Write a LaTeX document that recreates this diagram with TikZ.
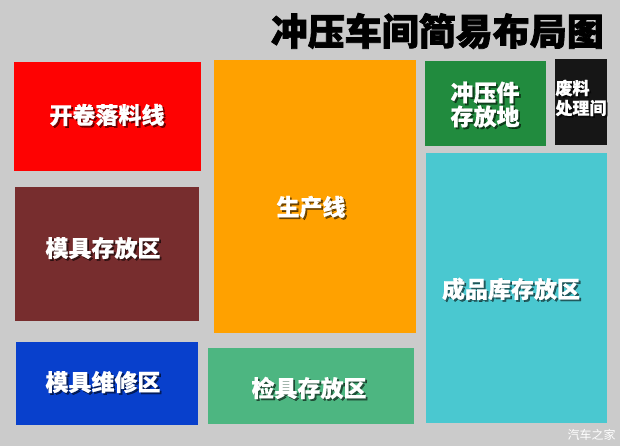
\documentclass[tikz,border=0pt]{standalone}
\usepackage{fontspec}
\newfontfamily\cjk{Noto Sans CJK SC}[BoldFeatures={FakeBold=0.6}]
\newfontfamily\cjktitle{Noto Sans CJK SC}[BoldFeatures={FakeBold=2}]
\definecolor{cBg}{RGB}{203,203,203}
\definecolor{cRed}{RGB}{254,2,2}
\definecolor{cOrange}{RGB}{255,161,0}
\definecolor{cGreen}{RGB}{33,139,62}
\definecolor{cBlack}{RGB}{22,22,22}
\definecolor{cCyan}{RGB}{74,200,208}
\definecolor{cBrown}{RGB}{119,45,46}
\definecolor{cBlue}{RGB}{8,64,204}
\definecolor{cSea}{RGB}{77,182,129}
\tikzset{
  zone/.style={inner sep=0pt, outer sep=0pt, draw=none},
  lab/.style={text=white, inner sep=0pt, align=center, font=\cjk\bfseries\fontsize{23}{24}\selectfont},
  smalllab/.style={text=white, inner sep=0pt, align=left, font=\cjk\bfseries\fontsize{17}{20}\selectfont},
  shd/.style={text=black, text opacity=0.55, xshift=1.8pt, yshift=-1.8pt},
}
\newcommand{\zonelabel}[4][lab]{%
  \node[#1, shd] at (#2) {#4};
  \node[#1] (#3) at (#2) {#4};}
\begin{document}
\begin{tikzpicture}[x=1pt, y=-1pt]
\fill[cBg] (0,0) rectangle (620,446);
\useasboundingbox (0,0) rectangle (620,446);
% title
\node[inner sep=0pt, anchor=east, font=\cjktitle\bfseries\fontsize{37}{38}\selectfont] (title) at (604,31) {冲压车间简易布局图};
% zones
\node[zone, fill=cRed, minimum width=187pt, minimum height=109pt] (red) at (107.5,116.5) {};
\node[zone, fill=cOrange, minimum width=202pt, minimum height=273pt] (orange) at (315,196.5) {};
\node[zone, fill=cGreen, minimum width=121pt, minimum height=85pt] (green) at (485.5,103.5) {};
\node[zone, fill=cBlack, minimum width=52pt, minimum height=86pt] (black) at (581,102) {};
\node[zone, fill=cCyan, minimum width=181pt, minimum height=270pt] (cyan) at (516.5,288) {};
\node[zone, fill=cBrown, minimum width=184pt, minimum height=134pt] (brown) at (107,254) {};
\node[zone, fill=cBlue, minimum width=182pt, minimum height=83pt] (blue) at (107,383.5) {};
\node[zone, fill=cSea, minimum width=206pt, minimum height=76pt] (sea) at (311,386) {};
% labels
\zonelabel{107,115}{lred}{开卷落料线}
\zonelabel{311,207}{lorange}{生产线}
\zonelabel{485,104.5}{lgreen}{冲压件\\存放地}
\zonelabel[smalllab]{581,98}{lblack}{废料\\处理间}
\zonelabel{511,289}{lcyan}{成品库存放区}
\zonelabel{103,248}{lbrown}{模具存放区}
\zonelabel{103,382}{lblue}{模具维修区}
\zonelabel{309,388}{lsea}{检具存放区}
% watermark
\node[inner sep=0pt, text=white, font=\cjk\fontsize{12}{12}\selectfont] (wm) at (591.5,435) {汽车之家};
\end{tikzpicture}
\end{document}
